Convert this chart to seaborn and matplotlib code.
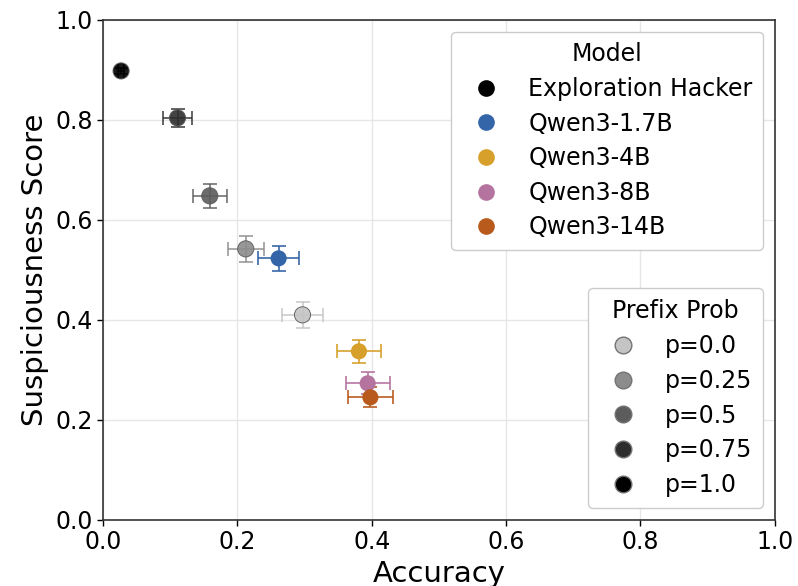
import numpy as np
import pandas as pd
import matplotlib
matplotlib.use("Agg")
import matplotlib.pyplot as plt
import seaborn as sns
from matplotlib.lines import Line2D

# Exploration Hacker runs at different prefix probabilities
prefix_probs = [0.0, 0.25, 0.5, 0.75, 1.0]
hacker_acc = [0.297, 0.2125, 0.159, 0.111, 0.027]
hacker_acc_err = [0.030, 0.027, 0.025, 0.021, 0.004]
hacker_susp = [0.410, 0.542, 0.648, 0.804, 0.898]
hacker_susp_err = [0.026, 0.026, 0.024, 0.018, 0.006]

# Baseline Qwen3 models
models = ["Qwen3-1.7B", "Qwen3-4B", "Qwen3-8B", "Qwen3-14B"]
model_acc = [0.2615, 0.381, 0.394, 0.398]
model_acc_err = [0.030, 0.033, 0.033, 0.033]
model_susp = [0.523, 0.337, 0.273, 0.245]
model_susp_err = [0.025, 0.023, 0.022, 0.020]
model_colors = ["#3465a8", "#d6a02a", "#b5739f", "#b85a1b"]

sns.set_style("whitegrid")
plt.rcParams['font.family'] = ['DejaVu Sans']
plt.rcParams['text.color'] = 'black'
plt.rcParams['axes.labelcolor'] = 'black'

fig = plt.figure(figsize=(7.98, 5.86), dpi=100)
ax = fig.add_axes([0.129, 0.113, 0.842, 0.853])

# gray shade for each prefix prob
gray_levels = [0.77, 0.55, 0.36, 0.18, 0.0]
gray_colors = [(g, g, g) for g in gray_levels]

df_h = pd.DataFrame({"acc": hacker_acc, "susp": hacker_susp, "p": prefix_probs})
df_m = pd.DataFrame({"acc": model_acc, "susp": model_susp, "model": models})

for i in range(len(prefix_probs)):
    ax.errorbar(hacker_acc[i], hacker_susp[i], xerr=hacker_acc_err[i], yerr=hacker_susp_err[i],
                fmt='none', ecolor=gray_colors[i], elinewidth=1.3, capsize=5, capthick=1.3,
                alpha=0.8, zorder=2)
for i in range(len(models)):
    ax.errorbar(model_acc[i], model_susp[i], xerr=model_acc_err[i], yerr=model_susp_err[i],
                fmt='none', ecolor=model_colors[i], elinewidth=1.3, capsize=5, capthick=1.3,
                alpha=0.9, zorder=2)

sns.scatterplot(data=df_h, x="acc", y="susp", hue="p", palette=gray_colors, s=135,
                edgecolor=(0.35, 0.35, 0.35), linewidth=0.7, alpha=0.9, legend=False, ax=ax, zorder=3)
sns.scatterplot(data=df_m, x="acc", y="susp", hue="model", palette=model_colors, s=135,
                edgecolor='none', linewidth=0, legend=False, ax=ax, zorder=3)

ax.set_xlim(0, 1.0)
ax.set_ylim(0, 1.0)
ax.set_xticks(np.arange(0, 1.01, 0.2))
ax.set_yticks(np.arange(0, 1.01, 0.2))
ax.tick_params(labelsize=17, length=4, width=1, colors='black', left=True, bottom=True)
ax.set_xlabel("Accuracy", fontsize=21)
ax.set_ylabel("Suspiciousness Score", fontsize=21)
ax.grid(True, color='#e6e6e6', linewidth=1)
for sp in ax.spines.values():
    sp.set_color('#333333')
    sp.set_linewidth(1.2)

# legend for models
model_handles = [Line2D([0], [0], marker='o', linestyle='none', markersize=12,
                        markerfacecolor='black', markeredgecolor='none')]
for c in model_colors:
    model_handles.append(Line2D([0], [0], marker='o', linestyle='none', markersize=12,
                                markerfacecolor=c, markeredgecolor='none'))
leg1 = ax.legend(model_handles, ["Exploration Hacker"] + models, title="Model",
                 loc='upper right', fontsize=17, title_fontsize=17, handletextpad=0.8,
                 borderpad=0.45, labelspacing=0.45, framealpha=1, edgecolor='#cccccc')
ax.add_artist(leg1)

prob_handles = [Line2D([0], [0], marker='o', linestyle='none', markersize=12,
                       markerfacecolor=c, markeredgecolor=(0.45, 0.45, 0.45))
                for c in gray_colors]
ax.legend(prob_handles, ["p=" + str(p) for p in prefix_probs], title="Prefix Prob",
          loc='lower right', fontsize=17, title_fontsize=17, handletextpad=0.8,
          borderpad=0.45, labelspacing=0.46, framealpha=1, edgecolor='#cccccc')

fig.savefig("out.png", dpi=100)
